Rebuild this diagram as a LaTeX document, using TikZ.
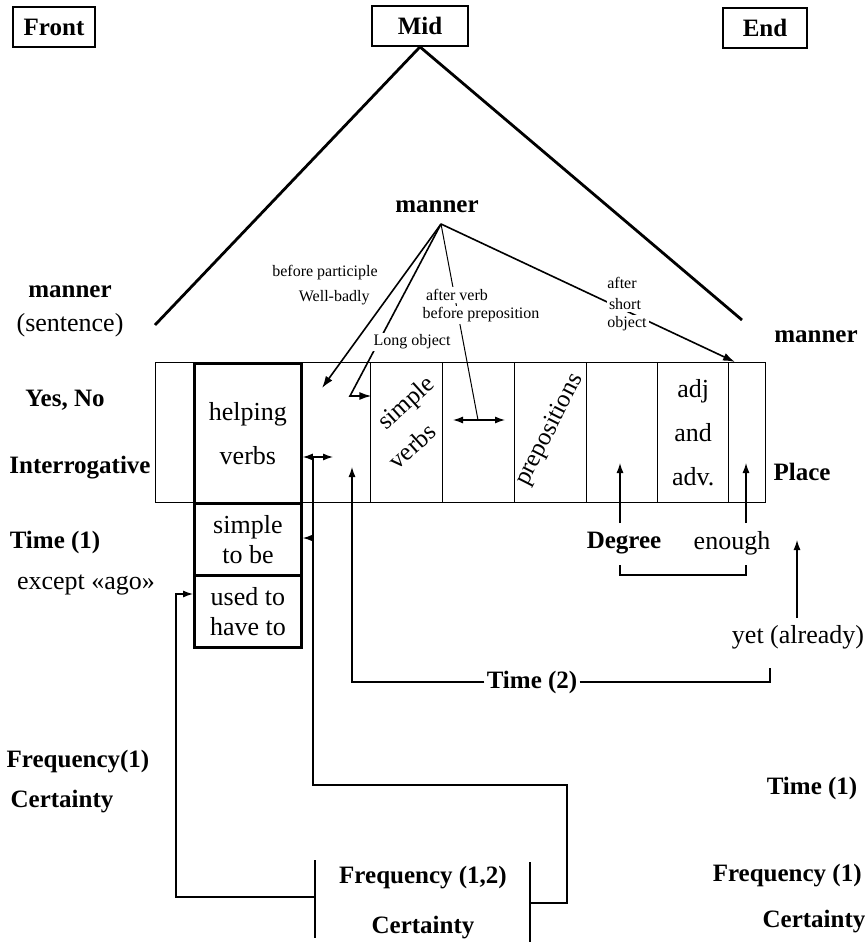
\documentclass[tikz,border=0pt]{standalone}
\usepackage{fontspec}
\setmainfont{Liberation Serif}
\usetikzlibrary{arrows.meta, positioning}

\begin{document}
\begin{tikzpicture}[
  x=0.5pt, y=-0.5pt,
  font=\fontsize{13}{15}\selectfont,
  every node/.style={align=center},
  tag/.style={font=\fontsize{12.5}{14}\selectfont\bfseries, inner sep=1pt},
  note/.style={font=\fontsize{8}{9}\selectfont, inner sep=1pt},
  cutNote/.style={note, fill=white},
  posBox/.style={draw, line width=0.9pt, tag, minimum width=#1, minimum height=20pt},
  col/.style={draw, line width=0.7pt, minimum height=70pt, minimum width=#1, inner sep=0pt, anchor=north west},
  heavyCol/.style={col=#1, line width=1.4pt},
  slanted/.style={font=\fontsize{12.5}{13}\selectfont, inner sep=0pt},
  triLine/.style={line width=1.4pt},
  fanLine/.style={line width=0.5pt},
  fanArrow/.style={line width=0.8pt, -{Latex[length=6pt, width=4pt]}},
  conn/.style={line width=0.6pt},
  tip/.style={-{Latex[length=5pt, width=3.5pt]}},
  twoTip/.style={{Latex[length=5pt, width=3.5pt]}-{Latex[length=5pt, width=3.5pt]}},
]
\useasboundingbox (0,0) rectangle (867,945);

% ------------------- Position boxes -------------------
\node[posBox=41pt] (front) at (54,27) {Front};
\node[posBox=48pt] (mid) at (420,26) {Mid};
\node[posBox=42pt] (end) at (765,28) {End};

\coordinate (triL) at (155,325);
\coordinate (triR) at (742,320);
\draw[triLine] (triL) -- (mid.south) -- (triR);

% ------------------- Side labels -------------------
\node[tag] (mannerL) at (70,292) {manner};
\node (sentence) at (70,325) {(sentence)};
\node[tag] (mannerR) at (816,337) {manner};
\node[tag] (yesNo) at (65,400) {Yes, No};
\node[tag] (interr) at (80,468) {Interrogative};
\node[tag] (place) at (802,472) {Place};
\node[tag] (time1L) at (55,542) {Time (1)};
\node (ago) at (86,585) {except «ago»};
\node[tag] (freq1L) at (78,762) {Frequency(1)};
\node[tag] (certL) at (62,802) {Certainty};
\node[tag] (time1R) at (812,788) {Time (1)};
\node[tag, anchor=east] (freq1R) at (864,876) {Frequency (1)};
\node[tag] (certR) at (814,922) {Certainty};

% ------------------- Sentence row -------------------
\node[col=19pt] (cFirst) at (155,362) {};
\node[col=35pt] (cGap) at (300,362) {};
\node[col=36pt] (cSimple) at (370,362) {};
\node[col=36pt] (cDouble) at (442,362) {};
\node[col=36pt] (cPrep) at (514,362) {};
\node[col=35.5pt] (cDegree) at (586,362) {};
\node[col=35.5pt] (cAdj) at (657,362) {};
\node[col=18.5pt] (cPlace) at (728,362) {};
\node[heavyCol=53.5pt] (cHelp) at (193,362) {};
\node[heavyCol=53.5pt, minimum height=36pt] (toBe) at (193,502) {simple\\to be};
\node[heavyCol=53.5pt, minimum height=36pt] (usedTo) at (193,574) {used to\\have to};

\node (helping) at (cHelp.center) {helping\\[7pt]verbs};
\node[slanted, rotate=42] (simple) at (407,404) {simple};
\node[slanted, rotate=42] (verbs) at (412,446) {verbs};
\node[slanted, rotate=63] (prep) at (550,430) {prepositions};
\node (adj) at (cAdj.center) {adj\\[7pt]and\\[7pt]adv.};

% ------------------- Manner fan -------------------
\node[tag] (manner) at (437,207) {manner};
\coordinate (fan) at (441,224);

\coordinate (wellTip) at (322,388);
\draw[fanArrow] (fan) -- (wellTip);
\node[note, anchor=east] (partic) at (380,273) {before participle};
\node[note, anchor=east] (well) at (372,298) {Well-badly};

\coordinate (longBend) at (350,396);
\draw[fanArrow] (fan) -- (longBend) -- (cGap.east |- longBend);
\node[cutNote] (longObj) at (412,342) {Long object};

\coordinate (dblMid) at (478,420);
\draw[fanLine] (fan) -- (dblMid);
\node[cutNote] (afterVerb) at (457,295) {after verb};
\node[cutNote] (beforePrep) at (481,315) {before preposition};
\coordinate (dblL) at (453,420);
\coordinate (dblR) at (505,420);
\draw[conn, twoTip] (dblL) -- (dblR);

\coordinate (shortTip) at (735,362);
\draw[fanArrow] (fan) -- (shortTip);
\node[note] (after) at (622,283) {after};
\node[cutNote] (short) at (625,304) {short};
\node[cutNote] (object) at (627,324) {object};

% ------------------- Degree, enough, yet -------------------
\node[tag] (degree) at (624,543) {Degree};
\node (enough) at (732,543) {enough};
\coordinate (degBot) at (620,523);
\coordinate (degTop) at (620,463);
\coordinate (enBot) at (746,523);
\coordinate (enTop) at (746,463);
\draw[conn, tip] (degBot) -- (degTop);
\draw[conn, tip] (enBot) -- (enTop);
\coordinate (degBr) at (620,565);
\coordinate (enBr) at (746,565);
\draw[conn] (degBr) -- ++(0,10) -| (enBr);

\node (yet) at (798,637) {yet (already)};
\coordinate (yetTip) at (797,540);
\draw[conn, tip] (yet.north -| yetTip) -- (yetTip);

% ------------------- Time (2) -------------------
\node[tag] (time2) at (532,682) {Time (2)};
\coordinate (t2Tip) at (352,467);
\coordinate (t2End) at (770,668);
\draw[conn, tip] (time2.west) -| (t2Tip);
\draw[conn] (time2.east) -| (t2End);

% ------------------- Frequency (1,2) -------------------
\node[tag] (freq12) at (423,878) {Frequency (1,2)};
\node[tag] (cert12) at (423,928) {Certainty};
\coordinate (barL) at (315,860);
\coordinate (barR) at (530,862);
\draw[conn] (barL) -- ++(0,78);
\draw[conn] (barR) -- ++(0,80);

\coordinate (freqL) at (315,897);
\coordinate (agoBend) at (176,594);
\draw[conn, tip] (freqL) -| (agoBend) -- (usedTo.west |- agoBend);

\coordinate (freqR) at (530,903);
\coordinate (rBend) at (567,785);
\coordinate (hvTop) at (313,457);
\coordinate (hvRight) at (333,457);
\coordinate (beTail) at (313,538);
\draw[conn] (freqR) -| (rBend) -| (hvTop);
\draw[conn, twoTip] (cHelp.east |- hvTop) -- (hvRight);
\draw[conn, tip] (beTail) -- (toBe.east |- beTail);

\end{tikzpicture}
\end{document}
